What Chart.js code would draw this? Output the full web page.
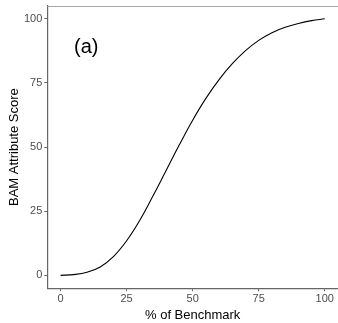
<!DOCTYPE html>
<html>
<head>
<meta charset="utf-8">
<script src="https://cdn.jsdelivr.net/npm/chart.js@4.4.0/dist/chart.umd.min.js"></script>
<style>
  body { margin: 0; background: #fff; }
  #wrap { width: 338px; height: 323px; position: relative; }
</style>
</head>
<body>
<div id="wrap"><canvas id="mycanvas"></canvas></div>
<script>
// % of benchmark vs BAM attribute score
var benchmark = [0, 5, 10, 15, 20, 25, 30, 35, 40, 45, 50, 55, 60, 65, 70, 75, 80, 85, 90, 95, 100];
var score = [0, 0.3, 1.2, 3.3, 7.3, 13.5, 21.5, 31, 41, 51, 60.5, 69, 76.3, 82.5, 87.6, 91.6, 94.6, 96.7, 98.2, 99.3, 100];
var tickValues = [0, 25, 50, 75, 100];
var panelLabel = "(a)";

var points = [];
for (var i in benchmark) {
	points.push({x: benchmark[i], y: score[i]});
}

var axisGrey = "#4d4d4d";
var fontFam = "Arial, 'Liberation Sans', sans-serif";

var extras = {
	id: "extras",
	afterDraw: function(chart) {
		var ctx = chart.ctx;
		var area = chart.chartArea;
		ctx.save();
		// top panel line
		ctx.strokeStyle = "#a6a6a6";
		ctx.lineWidth = 1;
		ctx.beginPath();
		ctx.moveTo(area.left, area.top + 0.5);
		ctx.lineTo(area.right, area.top + 0.5);
		ctx.stroke();
		// panel label
		ctx.fillStyle = "#000";
		ctx.font = "20px " + fontFam;
		ctx.textAlign = "center";
		ctx.textBaseline = "middle";
		ctx.fillText(panelLabel, chart.scales.x.getPixelForValue(9.7), chart.scales.y.getPixelForValue(89));
		ctx.restore();
	}
};

var ctx = document.getElementById("mycanvas");

var lineGraph = new Chart(ctx, {
	type: "line",
	data: {
		datasets: [{
			data: points,
			borderColor: "#000",
			borderWidth: 1.1,
			pointRadius: 0,
			fill: false,
			tension: 0.4
		}]
	},
	options: {
		responsive: true,
		maintainAspectRatio: false,
		animation: false,
		layout: { padding: { top: 6, right: 0, left: 8, bottom: 0 } },
		plugins: { legend: { display: false }, tooltip: { enabled: false } },
		scales: {
			x: {
				type: "linear",
				min: -5,
				max: 105,
				afterBuildTicks: function(axis) {
					axis.ticks = tickValues.map(function(v) { return {value: v}; });
				},
				border: { color: "#666", width: 1.2 },
				grid: { drawOnChartArea: false, color: "#666", tickLength: 3 },
				ticks: { color: axisGrey, font: { size: 11, family: fontFam }, padding: 1, maxRotation: 0 },
				title: { display: true, text: "% of Benchmark", color: "#000", font: { size: 13, family: fontFam }, padding: { top: 1, bottom: 0 } }
			},
			y: {
				min: -5,
				max: 105,
				afterBuildTicks: function(axis) {
					axis.ticks = tickValues.map(function(v) { return {value: v}; });
				},
				afterFit: function(axis) {
					axis.paddingTop = 0;
					axis.paddingBottom = 0;
				},
				border: { color: "#666", width: 1.2 },
				grid: { drawOnChartArea: false, color: "#666", tickLength: 3 },
				ticks: { color: axisGrey, font: { size: 11, family: fontFam }, padding: 2 },
				title: { display: true, text: "BAM Attribute Score", color: "#000", font: { size: 13, family: fontFam, lineHeight: 1 }, padding: { top: 0, bottom: 1 } }
			}
		}
	},
	plugins: [extras]
});
</script>
</body>
</html>
